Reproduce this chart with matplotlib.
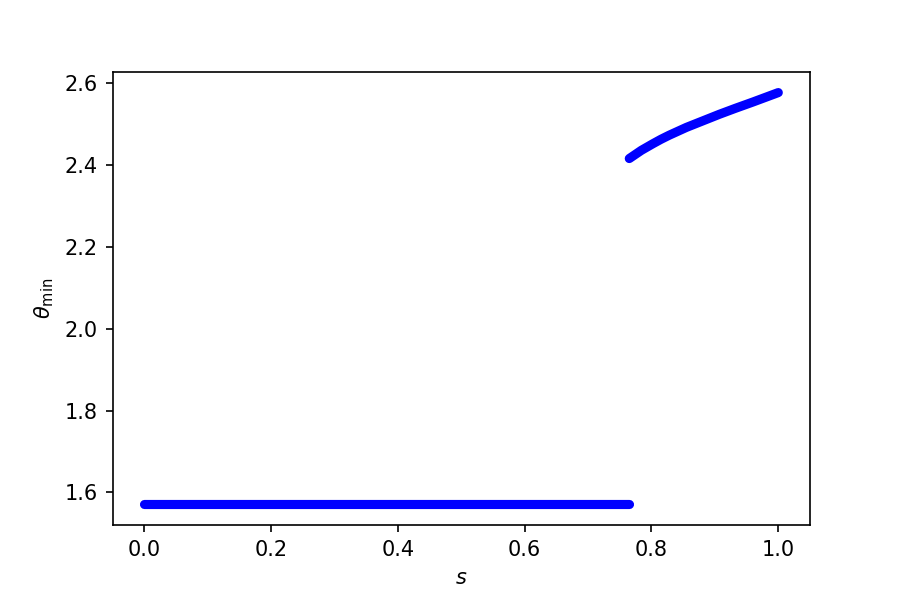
import matplotlib
matplotlib.use("Agg")
import matplotlib.pyplot as plt

# lower branch (flat) and upper branch
s_low = [0.0, 0.2, 0.4, 0.6, 0.765]
theta_low = [1.5708, 1.5708, 1.5708, 1.5708, 1.5708]

s_high = [0.765, 0.784, 0.802, 0.815, 0.828, 0.855, 0.881, 0.907, 0.933, 0.960, 1.0]
theta_high = [2.415, 2.435, 2.451, 2.462, 2.472, 2.491, 2.507, 2.523, 2.538, 2.553, 2.576]

fig, ax = plt.subplots(figsize=(6, 4), dpi=150)
fig.subplots_adjust(bottom=0.125)
ax.plot(s_low, theta_low, color='blue', lw=4.4, solid_capstyle='round')
ax.plot(s_high, theta_high, color='blue', lw=4.4, solid_capstyle='round')
ax.set_xlabel('$s$')
ax.set_ylabel(r'$\theta_{\min}$')

fig.savefig('out.png', dpi=150)
